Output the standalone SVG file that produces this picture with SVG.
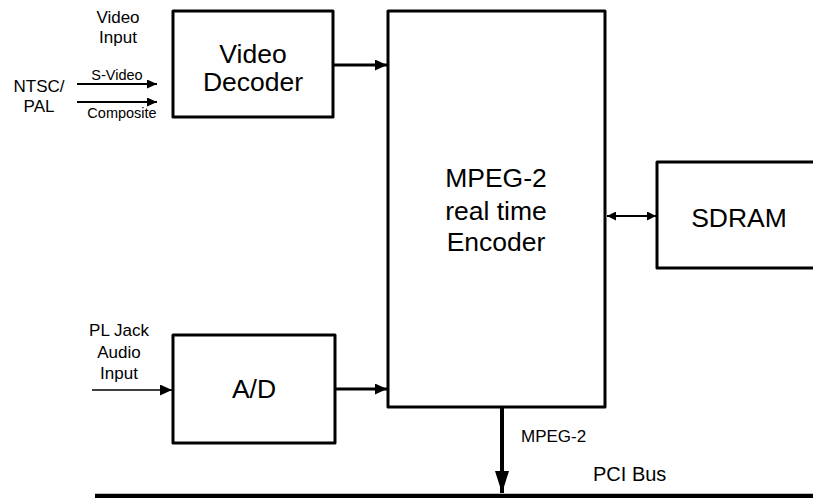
<svg xmlns="http://www.w3.org/2000/svg" width="813" height="498" viewBox="0 0 813 498">
<style>
text{font-family:"Liberation Sans",Arial,sans-serif;fill:#000}
.big{font-size:26.5px;text-anchor:middle}
.lbl{font-size:17px;text-anchor:middle}
.sm{font-size:14.5px;text-anchor:middle}
.box{fill:#fff;stroke:#000;stroke-width:3;stroke-linejoin:round}
.thick{stroke:#000;stroke-width:3;fill:none}
.thin{stroke:#000;stroke-width:2;fill:none}
.hair{stroke:#000;stroke-width:1.5;fill:none}
</style>
<defs>
<marker id="ah" markerUnits="userSpaceOnUse" viewBox="0 0 10 10" refX="10" refY="5" markerWidth="10" markerHeight="9" orient="auto-start-reverse" preserveAspectRatio="none"><path d="M0,0L10,5L0,10Z" fill="#000"/></marker>
<marker id="aht" markerUnits="userSpaceOnUse" viewBox="0 0 10 10" refX="10" refY="5" markerWidth="12" markerHeight="11" orient="auto" preserveAspectRatio="none"><path d="M0,0L10,5L0,10Z" fill="#000"/></marker>
<marker id="ahs" markerUnits="userSpaceOnUse" viewBox="0 0 10 10" refX="10" refY="5" markerWidth="9" markerHeight="9" orient="auto-start-reverse"><path d="M0,0L10,5L0,10Z" fill="#000"/></marker>
<marker id="ahb" markerUnits="userSpaceOnUse" viewBox="0 0 22 14" refX="22" refY="7" markerWidth="22" markerHeight="14" orient="auto"><path d="M0,0L22,7L0,14Z" fill="#000"/></marker>
</defs>
<g id="connectors">
<line class="thin" x1="77" y1="84" x2="157" y2="84" marker-end="url(#ah)"/>
<line class="thin" x1="77" y1="102" x2="157" y2="102" marker-end="url(#ah)"/>
<line class="thick" x1="333" y1="65" x2="387" y2="65" marker-end="url(#aht)"/>
<line class="hair" x1="92" y1="390" x2="172" y2="390" marker-end="url(#aht)"/>
<line class="thick" x1="335" y1="389" x2="387" y2="389" marker-end="url(#aht)"/>
<line class="thin" x1="607" y1="216" x2="656" y2="216" marker-start="url(#ahs)" marker-end="url(#ahs)"/>
<line x1="502" y1="407" x2="502" y2="493" stroke="#000" stroke-width="4" marker-end="url(#ahb)"/>
<line x1="95" y1="496" x2="815" y2="496" stroke="#000" stroke-width="4.5"/>
</g>
<g id="labels">
<text class="lbl" x="118" y="23">Video</text>
<text class="lbl" x="118" y="43">Input</text>
<text class="lbl" x="39" y="92">NTSC/</text>
<text class="lbl" x="39" y="112">PAL</text>
<text class="sm" x="117" y="80">S-Video</text>
<text class="sm" x="122" y="118">Composite</text>
<text class="lbl" x="119" y="336">PL Jack</text>
<text class="lbl" x="119" y="358">Audio</text>
<text class="lbl" x="119" y="379">Input</text>
<text x="521" y="442" style="font-size:17px">MPEG-2</text>
<text x="593" y="481" style="font-size:20px">PCI Bus</text>
</g>
<g id="video-decoder">
<rect class="box" x="173" y="11" width="160" height="106"/>
<text class="big" x="253" y="63">Video</text>
<text class="big" x="253" y="91">Decoder</text>
</g>
<g id="encoder">
<rect class="box" x="388" y="11" width="217" height="396"/>
<text class="big" x="496" y="187">MPEG-2</text>
<text class="big" x="496" y="220">real time</text>
<text class="big" x="496" y="251">Encoder</text>
</g>
<g id="sdram">
<rect class="box" x="657" y="162" width="170" height="106"/>
<text class="big" x="739" y="227">SDRAM</text>
</g>
<g id="ad">
<rect class="box" x="173" y="335" width="162" height="108"/>
<text class="big" x="254" y="398">A/D</text>
</g>
</svg>
